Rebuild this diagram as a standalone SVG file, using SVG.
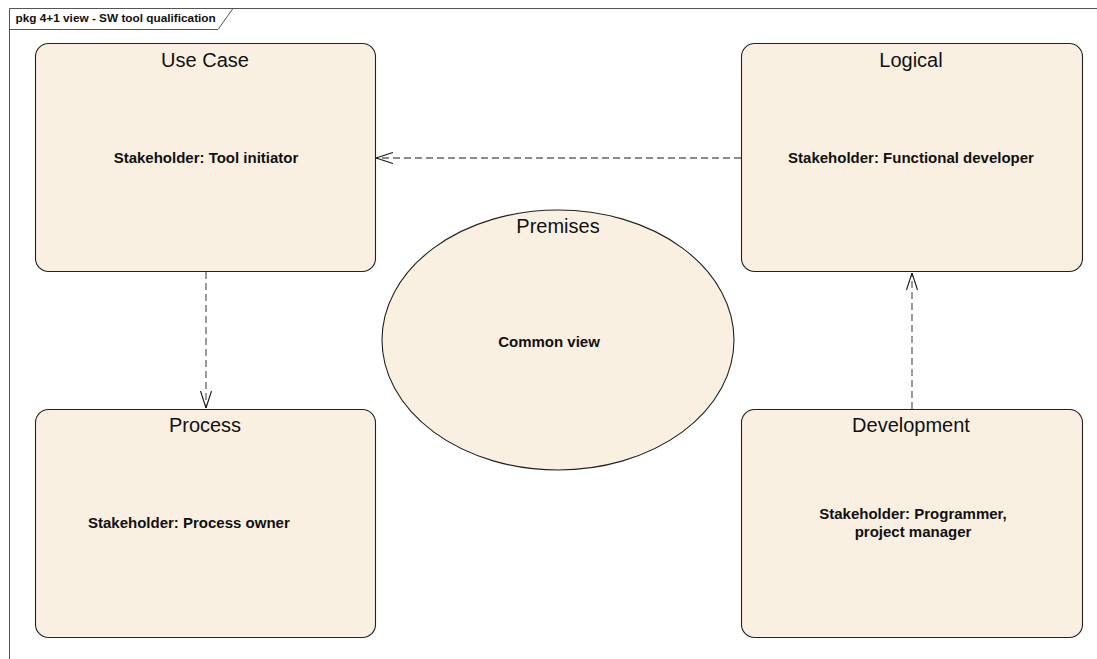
<svg xmlns="http://www.w3.org/2000/svg" width="1097" height="659" viewBox="0 0 1097 659">
  <style>
    .frame { fill: none; stroke: #555; stroke-width: 1; }
    .node { fill: #FAF0E1; stroke: #222; stroke-width: 1.1; }
    .title { font-family: "Liberation Sans", Arial, sans-serif; font-size: 20px; fill: #111; text-anchor: middle; }
    .body { font-family: "Liberation Sans", Arial, sans-serif; font-size: 15px; font-weight: bold; fill: #111; text-anchor: middle; }
    .tab { font-family: "Liberation Sans", Arial, sans-serif; font-size: 11.8px; font-weight: bold; fill: #111; }
    .dep { fill: none; stroke: #666; stroke-width: 1.3; stroke-dasharray: 7 4; marker-end: url(#openArrow); }
  </style>
  <defs>
    <marker id="openArrow" viewBox="0 0 17 12" refX="17" refY="6" markerWidth="17" markerHeight="12" markerUnits="userSpaceOnUse" orient="auto">
      <path d="M0,0.5 L17,6 L0,11.5" fill="none" stroke="#111" stroke-width="1.1"/>
    </marker>
  </defs>

  <rect width="1097" height="659" fill="#fff"/>

  <!-- package frame -->
  <g id="frame">
    <path class="frame" d="M9.5,670 V8.5 H1100"/>
    <path class="frame" d="M9.5,29.5 H218 L233,8.5"/>
    <text class="tab" x="15.5" y="22">pkg 4+1 view - SW tool qualification</text>
  </g>

  <!-- dependencies -->
  <g id="connectors">
    <path class="dep" d="M741,158 H376"/>
    <path class="dep" d="M206,272 V408"/>
    <path class="dep" d="M912,409 V273"/>
  </g>

  <g id="use-case">
    <rect class="node" x="35.5" y="43.5" width="340" height="228" rx="13"/>
    <text class="title" x="205" y="67">Use Case</text>
    <text class="body" x="206" y="163">Stakeholder: Tool initiator</text>
  </g>

  <g id="logical">
    <rect class="node" x="741.5" y="43.5" width="341" height="228" rx="13"/>
    <text class="title" x="911" y="67">Logical</text>
    <text class="body" x="911" y="163">Stakeholder: Functional developer</text>
  </g>

  <g id="premises">
    <ellipse class="node" cx="558" cy="340" rx="176" ry="130"/>
    <text class="title" x="558" y="233">Premises</text>
    <text class="body" x="549" y="347">Common view</text>
  </g>

  <g id="process">
    <rect class="node" x="35.5" y="409.5" width="340" height="228" rx="13"/>
    <text class="title" x="205" y="432">Process</text>
    <text class="body" x="88" y="528" style="text-anchor:start">Stakeholder: Process owner</text>
  </g>

  <g id="development">
    <rect class="node" x="741.5" y="409.5" width="341" height="228" rx="13"/>
    <text class="title" x="911" y="432">Development</text>
    <text class="body" x="913" y="519">Stakeholder: Programmer,</text>
    <text class="body" x="913" y="537">project manager</text>
  </g>
</svg>
